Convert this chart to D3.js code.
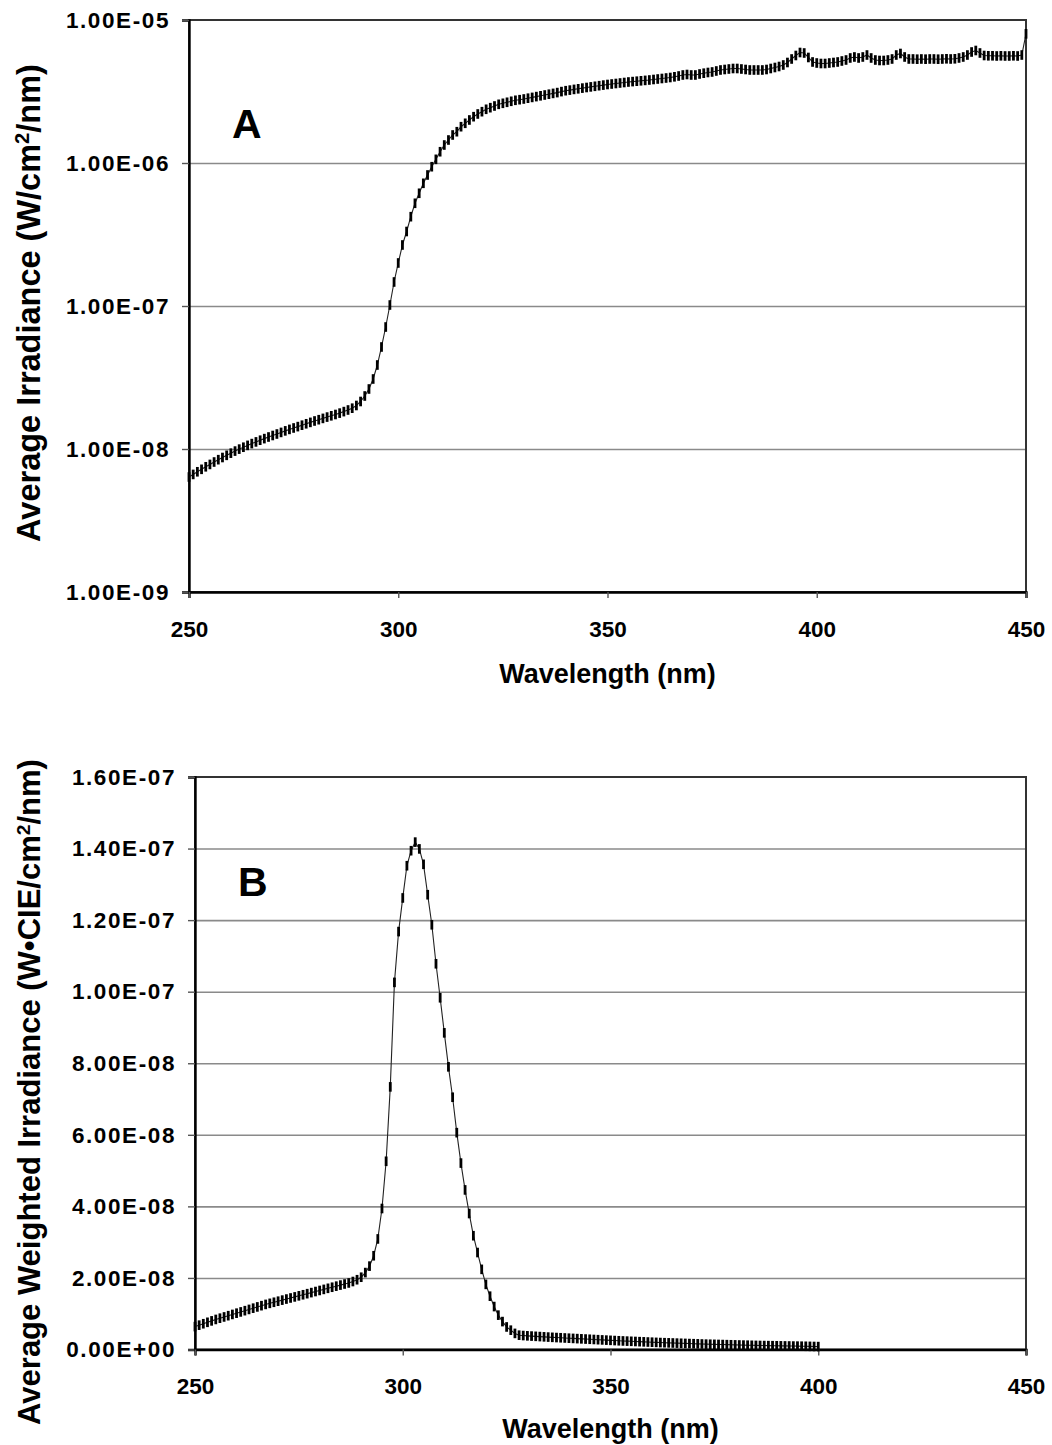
<!DOCTYPE html>
<html><head><meta charset="utf-8">
<script src="https://cdn.jsdelivr.net/npm/d3@7"></script>
<style>body{margin:0;background:#fff}text{font-family:"Liberation Sans",Arial,sans-serif;font-weight:bold;fill:#000}</style>
</head><body>
<svg id="chart" width="1052" height="1445" xmlns="http://www.w3.org/2000/svg"></svg>
<script>
// ---------- DATA ----------
const wavelengthsA = d3.range(250, 451);   // 1 nm sampling grid, 250-450 nm
const wavelengthsB = d3.range(250, 401);   // 1 nm sampling grid, 250-400 nm

// Panel A: average irradiance (W/cm2/nm)
const irradianceA = [
  6.37e-9,6.64e-9,6.93e-9,7.21e-9,7.51e-9,7.80e-9,8.11e-9,8.42e-9,8.72e-9,9.03e-9,
  9.35e-9,9.67e-9,9.98e-9,1.029e-8,1.060e-8,1.091e-8,1.121e-8,1.152e-8,1.182e-8,1.213e-8,
  1.243e-8,1.273e-8,1.306e-8,1.339e-8,1.371e-8,1.403e-8,1.434e-8,1.467e-8,1.501e-8,1.535e-8,
  1.570e-8,1.603e-8,1.637e-8,1.672e-8,1.707e-8,1.743e-8,1.782e-8,1.826e-8,1.874e-8,1.929e-8,
  2.015e-8,2.149e-8,2.348e-8,2.628e-8,3.087e-8,3.867e-8,5.168e-8,7.13e-8,1.016e-7,1.472e-7,
  1.999e-7,2.671e-7,3.319e-7,4.212e-7,5.227e-7,6.141e-7,7.211e-7,8.245e-7,9.42e-7,1.061e-6,
  1.199e-6,1.336e-6,1.448e-6,1.570e-6,1.655e-6,1.794e-6,1.895e-6,1.999e-6,2.108e-6,2.202e-6,
  2.285e-6,2.375e-6,2.437e-6,2.504e-6,2.573e-6,2.615e-6,2.658e-6,2.701e-6,2.745e-6,2.772e-6,
  2.803e-6,2.839e-6,2.875e-6,2.913e-6,2.951e-6,2.989e-6,3.028e-6,3.067e-6,3.107e-6,3.157e-6,
  3.203e-6,3.234e-6,3.271e-6,3.303e-6,3.340e-6,3.373e-6,3.406e-6,3.439e-6,3.472e-6,3.506e-6,
  3.540e-6,3.568e-6,3.597e-6,3.626e-6,3.655e-6,3.685e-6,3.709e-6,3.733e-6,3.757e-6,3.781e-6,
  3.806e-6,3.837e-6,3.867e-6,3.899e-6,3.930e-6,3.962e-6,4.007e-6,4.059e-6,4.125e-6,4.158e-6,
  4.125e-6,4.125e-6,4.192e-6,4.246e-6,4.295e-6,4.330e-6,4.400e-6,4.471e-6,4.507e-6,4.543e-6,
  4.580e-6,4.580e-6,4.543e-6,4.507e-6,4.471e-6,4.471e-6,4.471e-6,4.471e-6,4.507e-6,4.580e-6,
  4.654e-6,4.730e-6,4.846e-6,5.045e-6,5.338e-6,5.646e-6,5.926e-6,5.878e-6,5.469e-6,5.086e-6,
  5.003e-6,4.963e-6,4.963e-6,5.003e-6,5.045e-6,5.086e-6,5.168e-6,5.252e-6,5.425e-6,5.513e-6,
  5.425e-6,5.513e-6,5.691e-6,5.425e-6,5.252e-6,5.210e-6,5.210e-6,5.252e-6,5.338e-6,5.691e-6,
  5.831e-6,5.513e-6,5.338e-6,5.338e-6,5.321e-6,5.338e-6,5.321e-6,5.338e-6,5.338e-6,5.321e-6,
  5.338e-6,5.355e-6,5.338e-6,5.355e-6,5.425e-6,5.513e-6,5.691e-6,5.974e-6,6.120e-6,5.878e-6,
  5.646e-6,5.620e-6,5.620e-6,5.602e-6,5.620e-6,5.602e-6,5.602e-6,5.620e-6,5.602e-6,5.691e-6,
  8.0e-6
];

// Panel B: average CIE-weighted irradiance (W*CIE/cm2/nm)
const weightedB = [
  6.4e-9,6.8e-9,7.2e-9,7.6e-9,8.0e-9,8.4e-9,8.75e-9,9.1e-9,9.45e-9,9.8e-9,
  1.015e-8,1.05e-8,1.085e-8,1.12e-8,1.155e-8,1.19e-8,1.225e-8,1.26e-8,1.29e-8,1.32e-8,
  1.35e-8,1.38e-8,1.41e-8,1.44e-8,1.47e-8,1.50e-8,1.53e-8,1.56e-8,1.59e-8,1.62e-8,
  1.65e-8,1.68e-8,1.71e-8,1.74e-8,1.77e-8,1.80e-8,1.83e-8,1.86e-8,1.90e-8,1.95e-8,
  2.02e-8,2.15e-8,2.33e-8,2.62e-8,3.09e-8,3.94e-8,5.26e-8,7.34e-8,1.026e-7,1.168e-7,
  1.262e-7,1.352e-7,1.394e-7,1.418e-7,1.399e-7,1.356e-7,1.271e-7,1.187e-7,1.078e-7,9.83e-8,
  8.85e-8,7.90e-8,7.05e-8,6.06e-8,5.21e-8,4.46e-8,3.80e-8,3.18e-8,2.71e-8,2.24e-8,
  1.82e-8,1.49e-8,1.20e-8,9.6e-9,7.8e-9,6.3e-9,5.4e-9,4.5e-9,4.0e-9,3.90e-9,
  3.82e-9,3.75e-9,3.68e-9,3.61e-9,3.54e-9,3.47e-9,3.40e-9,3.34e-9,3.28e-9,3.22e-9,
  3.16e-9,3.10e-9,3.04e-9,2.98e-9,2.92e-9,2.86e-9,2.80e-9,2.74e-9,2.68e-9,2.62e-9,
  2.56e-9,2.50e-9,2.44e-9,2.39e-9,2.34e-9,2.29e-9,2.24e-9,2.19e-9,2.14e-9,2.09e-9,
  2.04e-9,1.99e-9,1.94e-9,1.90e-9,1.86e-9,1.82e-9,1.78e-9,1.74e-9,1.70e-9,1.66e-9,
  1.62e-9,1.58e-9,1.54e-9,1.50e-9,1.47e-9,1.44e-9,1.41e-9,1.38e-9,1.35e-9,1.32e-9,
  1.29e-9,1.26e-9,1.23e-9,1.20e-9,1.17e-9,1.14e-9,1.12e-9,1.10e-9,1.08e-9,1.06e-9,
  1.04e-9,1.02e-9,1.00e-9,0.98e-9,0.96e-9,0.94e-9,0.92e-9,0.90e-9,0.87e-9,0.84e-9,
  0.81e-9
];

const xTicks = [250, 300, 350, 400, 450];
const xTickLabels = ["250", "300", "350", "400", "450"];
const yTicksA = [1e-9, 1e-8, 1e-7, 1e-6, 1e-5];
const yTickLabelsA = ["1.00E-09", "1.00E-08", "1.00E-07", "1.00E-06", "1.00E-05"];
const yTicksB = [0, 2e-8, 4e-8, 6e-8, 8e-8, 1e-7, 1.2e-7, 1.4e-7, 1.6e-7];
const yTickLabelsB = ["0.00E+00", "2.00E-08", "4.00E-08", "6.00E-08", "8.00E-08", "1.00E-07", "1.20E-07", "1.40E-07", "1.60E-07"];
const xTitle = "Wavelength (nm)";

// ---------- DRAW ----------
const svg = d3.select("#chart");
const FONT = '"Liberation Sans",Arial,sans-serif';

function drawPanel(cfg) {
  const g = svg.append("g");
  const x = d3.scaleLinear().domain([250, 450]).range([cfg.left, cfg.right]);
  const y = cfg.yScale.range([cfg.bottom, cfg.top]);
  const w = cfg.right - cfg.left;

  // gridlines
  g.append("g").attr("transform", `translate(${cfg.left},0)`)
    .call(d3.axisLeft(y).tickValues(cfg.yTicks.slice(1, -1)).tickSize(-w).tickFormat(""))
    .call(s => s.select(".domain").remove())
    .call(s => s.selectAll("line").attr("stroke", "#8a8a8a").attr("stroke-width", 1.6));

  // frame (top/right)
  g.append("rect").attr("x", cfg.left).attr("y", cfg.top).attr("width", w).attr("height", cfg.bottom - cfg.top)
    .attr("fill", "none").attr("stroke", "#333").attr("stroke-width", 2);

  // y axis
  const ya = g.append("g").attr("transform", `translate(${cfg.left},0)`)
    .call(d3.axisLeft(y).tickValues(cfg.yTicks).tickSize(7).tickPadding(12)
      .tickFormat((d, i) => cfg.yLabels[i]));
  ya.select(".domain").attr("stroke", "#000").attr("stroke-width", 2.4);
  ya.selectAll("line").attr("stroke", "#555").attr("stroke-width", 1.4);
  ya.selectAll("text").attr("font-size", 22.5).attr("font-family", FONT).attr("font-weight", "bold")
    .attr("fill", "#000").attr("letter-spacing", 1.6);

  // x axis
  const xa = g.append("g").attr("transform", `translate(0,${cfg.bottom})`)
    .call(d3.axisBottom(x).tickValues(xTicks).tickSize(6).tickPadding(23)
      .tickFormat((d, i) => xTickLabels[i]));
  xa.select(".domain").attr("stroke", "#000").attr("stroke-width", 2.4);
  xa.selectAll("line").attr("stroke", "#555").attr("stroke-width", 1.4);
  xa.selectAll("text").attr("font-size", 22.5).attr("font-family", FONT).attr("font-weight", "bold").attr("fill", "#000");

  // series
  const pts = cfg.wl.map((wv, i) => ({ w: wv, v: cfg.values[i] }));
  g.append("path").datum(pts)
    .attr("fill", "none").attr("stroke", "#222").attr("stroke-width", 1.1)
    .attr("d", d3.line().x(d => x(d.w)).y(d => y(d.v)));
  g.append("g").selectAll("rect").data(pts).join("rect")
    .attr("x", d => x(d.w) - 1.4).attr("y", d => y(d.v) - 4.8)
    .attr("width", 2.8).attr("height", 9.6).attr("fill", "#000");

  // panel letter
  g.append("text").attr("x", cfg.left + 43).attr("y", cfg.letterY)
    .attr("font-size", 41).text(cfg.letter);

  // x title
  g.append("text").attr("x", (cfg.left + cfg.right) / 2).attr("y", cfg.xTitleY)
    .attr("text-anchor", "middle").attr("font-size", 27).text(xTitle);

  // y title
  const yt = g.append("text").attr("transform", `translate(${cfg.yTitleX},${cfg.yTitleCY}) rotate(-90)`)
    .attr("text-anchor", "middle").attr("font-size", cfg.yTitleSize);
  cfg.yTitleParts.forEach(p => {
    const t = yt.append("tspan").text(p.t);
    if (p.sup) t.attr("font-size", cfg.yTitleSize * 0.62).attr("baseline-shift", "super");
  });
}

drawPanel({
  left: 189, right: 1026, top: 20, bottom: 592,
  yScale: d3.scaleLog().domain([1e-9, 1e-5]),
  yTicks: yTicksA, yLabels: yTickLabelsA,
  wl: wavelengthsA, values: irradianceA,
  letter: "A", letterY: 138, xTitleY: 683,
  yTitleX: 40, yTitleCY: 303, yTitleSize: 32.5,
  yTitleParts: [{ t: "Average Irradiance (W/cm" }, { t: "2", sup: true }, { t: "/nm)" }]
});

drawPanel({
  left: 195, right: 1026, top: 777, bottom: 1349.5,
  yScale: d3.scaleLinear().domain([0, 1.6e-7]),
  yTicks: yTicksB, yLabels: yTickLabelsB,
  wl: wavelengthsB, values: weightedB,
  letter: "B", letterY: 896, xTitleY: 1438,
  yTitleX: 40, yTitleCY: 1092, yTitleSize: 31,
  yTitleParts: [{ t: "Average Weighted Irradiance (W•CIE/cm" }, { t: "2", sup: true }, { t: "/nm)" }]
});
</script>
</body></html>
